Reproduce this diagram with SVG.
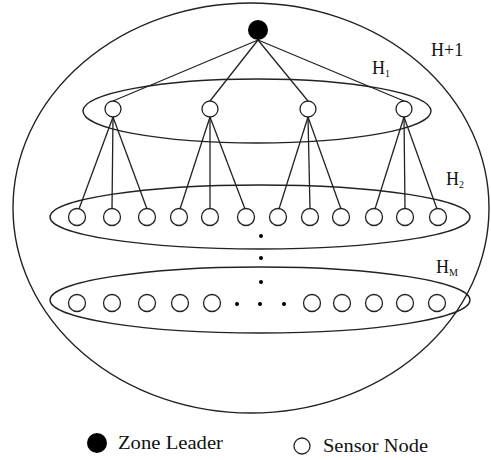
<svg xmlns="http://www.w3.org/2000/svg" width="491" height="460" viewBox="0 0 491 460">
  <style>
    .ring { fill: none; stroke: #222; stroke-width: 1.4; }
    .sensor { fill: #fff; stroke: #222; stroke-width: 1.3; }
    .leader { fill: #000; }
    .link { stroke: #222; stroke-width: 1.3; fill: none; }
    .dot { fill: #000; }
    .lbl { font-family: "Liberation Serif", "DejaVu Serif", serif; fill: #111; }
    .sub { font-size: 10px; }
  </style>
  <rect width="491" height="460" fill="#fff"/>

  <!-- zone boundary and hop-level rings -->
  <g id="zone">
    <ellipse class="ring" cx="251" cy="208" rx="238" ry="205"/>
    <text class="lbl" x="431" y="56" font-size="18">H+1</text>
  </g>
  <g id="hop1">
    <ellipse class="ring" cx="257" cy="111" rx="174" ry="32"/>
    <text class="lbl" x="372" y="74" font-size="18">H<tspan class="sub" dy="3">1</tspan></text>
  </g>
  <g id="hop2">
    <ellipse class="ring" cx="260" cy="217" rx="210" ry="32"/>
    <text class="lbl" x="446" y="185" font-size="18">H<tspan class="sub" dy="3">2</tspan></text>
  </g>
  <g id="hopM">
    <ellipse class="ring" cx="260" cy="300" rx="210" ry="33"/>
    <text class="lbl" x="436" y="273" font-size="18">H<tspan class="sub" dy="3">M</tspan></text>
  </g>

  <!-- connectors -->
  <g id="connectors">
    <line class="link" x1="258" y1="40" x2="113" y2="101"/>
    <line class="link" x1="258" y1="40" x2="210" y2="101"/>
    <line class="link" x1="258" y1="40" x2="308" y2="101"/>
    <line class="link" x1="258" y1="40" x2="404" y2="101"/>

    <line class="link" x1="113" y1="117" x2="79" y2="209"/>
    <line class="link" x1="113" y1="117" x2="112" y2="209"/>
    <line class="link" x1="113" y1="117" x2="147" y2="209"/>

    <line class="link" x1="210" y1="117" x2="180" y2="209"/>
    <line class="link" x1="210" y1="117" x2="210" y2="209"/>
    <line class="link" x1="210" y1="117" x2="245" y2="209"/>

    <line class="link" x1="308" y1="117" x2="279" y2="209"/>
    <line class="link" x1="308" y1="117" x2="310" y2="209"/>
    <line class="link" x1="308" y1="117" x2="341" y2="209"/>

    <line class="link" x1="404" y1="117" x2="375" y2="209"/>
    <line class="link" x1="404" y1="117" x2="405" y2="209"/>
    <line class="link" x1="404" y1="117" x2="437" y2="209"/>
  </g>

  <!-- zone leader -->
  <g id="zone-leader">
    <circle class="leader" cx="258" cy="30" r="10"/>
  </g>

  <!-- first-hop sensors -->
  <g id="h1-nodes">
    <circle class="sensor" cx="113" cy="109" r="8"/>
    <circle class="sensor" cx="210" cy="109" r="8"/>
    <circle class="sensor" cx="308" cy="109" r="8"/>
    <circle class="sensor" cx="404" cy="109" r="8"/>
  </g>

  <!-- second-hop sensors -->
  <g id="h2-nodes">
    <circle class="sensor" cx="77" cy="217" r="8.5"/>
    <circle class="sensor" cx="112" cy="217" r="8.5"/>
    <circle class="sensor" cx="147" cy="217" r="8.5"/>
    <circle class="sensor" cx="179" cy="217" r="8.5"/>
    <circle class="sensor" cx="210" cy="217" r="8.5"/>
    <circle class="sensor" cx="246" cy="217" r="8.5"/>
    <circle class="sensor" cx="278" cy="217" r="8.5"/>
    <circle class="sensor" cx="310" cy="217" r="8.5"/>
    <circle class="sensor" cx="341" cy="217" r="8.5"/>
    <circle class="sensor" cx="374" cy="217" r="8.5"/>
    <circle class="sensor" cx="405" cy="217" r="8.5"/>
    <circle class="sensor" cx="438" cy="217" r="8.5"/>
  </g>

  <!-- vertical ellipsis between hop levels -->
  <g id="ellipsis-v">
    <circle class="dot" cx="261" cy="236" r="2"/>
    <circle class="dot" cx="261" cy="258" r="2"/>
    <circle class="dot" cx="261" cy="282" r="2"/>
  </g>

  <!-- last-hop sensors -->
  <g id="hM-nodes">
    <circle class="sensor" cx="77" cy="303" r="8.5"/>
    <circle class="sensor" cx="112" cy="303" r="8.5"/>
    <circle class="sensor" cx="147" cy="303" r="8.5"/>
    <circle class="sensor" cx="180" cy="303" r="8.5"/>
    <circle class="sensor" cx="212" cy="303" r="8.5"/>
    <circle class="dot" cx="237" cy="304" r="2"/>
    <circle class="dot" cx="260" cy="304" r="2"/>
    <circle class="dot" cx="284" cy="304" r="2"/>
    <circle class="sensor" cx="312" cy="303" r="8.5"/>
    <circle class="sensor" cx="342" cy="303" r="8.5"/>
    <circle class="sensor" cx="374" cy="303" r="8.5"/>
    <circle class="sensor" cx="405" cy="303" r="8.5"/>
    <circle class="sensor" cx="437" cy="303" r="8.5"/>
  </g>

  <!-- legend -->
  <g id="legend">
    <circle class="leader" cx="97" cy="443" r="10"/>
    <text class="lbl" x="118" y="449" font-size="19" textLength="105" lengthAdjust="spacingAndGlyphs">Zone Leader</text>
    <circle class="sensor" cx="302" cy="446" r="8"/>
    <text class="lbl" x="323" y="452" font-size="19" textLength="105" lengthAdjust="spacingAndGlyphs">Sensor Node</text>
  </g>
</svg>
